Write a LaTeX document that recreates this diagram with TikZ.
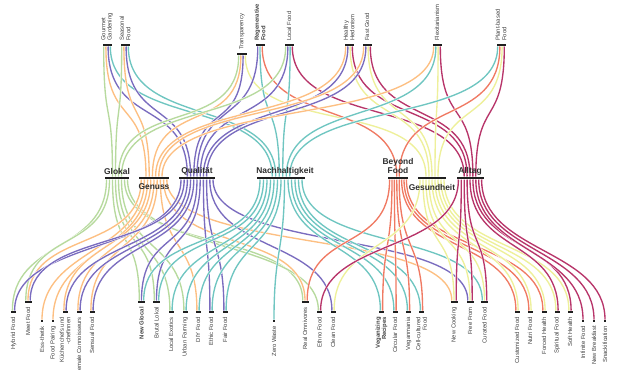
\documentclass[tikz,border=0pt]{standalone}
\usepackage{fontspec}
\setmainfont{Liberation Sans}
\usetikzlibrary{backgrounds}
\definecolor{cG}{HTML}{B7DA9E}
\definecolor{cO}{HTML}{FDBF82}
\definecolor{cP}{HTML}{7A6CBF}
\definecolor{cT}{HTML}{6FC6C1}
\definecolor{cC}{HTML}{F07A63}
\definecolor{cY}{HTML}{EEF09A}
\definecolor{cM}{HTML}{B8356A}
\def\spglokal{3}\def\spgenuss{3.2}\def\spqual{3.2}\def\spnach{3.5}
\def\spbeyond{2.4}\def\spgesund{3}\def\spalltag{2.9}
\newcommand\linkU[7]{\draw[lk=#1] ([xshift={((#3)-((#4)+1)/2)*2.2}]#2.south) .. controls +(0,-82) and +(0,80) .. ([xshift={((#6)-((#7)+1)/2)*\csname sp#5\endcsname}]#5.north);}
\newcommand\linkD[7]{\draw[lk=#1] ([xshift={((#3)-((#4)+1)/2)*\csname sp#2\endcsname}]#2.south) .. controls +(0,-74) and +(0,72) .. ([xshift={((#6)-((#7)+1)/2)*2.2}]#5.north);}
\begin{document}
\begin{tikzpicture}[x=1pt,y=1pt,
  lk/.style={line width=0.45pt, draw=white, double=#1, double distance=1.35pt},
  bar/.style={fill=black!88, draw=none, inner sep=0pt, minimum height=2.6pt},
  tlab/.style={rotate=90, anchor=west, font=\fontsize{5.9}{6.3}\selectfont, align=left, text=black!75, inner sep=0pt},
  blab/.style={rotate=90, anchor=east, font=\fontsize{5.9}{6.3}\selectfont, align=right, text=black!75, inner sep=0pt},
  clab/.style={font=\fontsize{8.4}{8.8}\selectfont\bfseries, align=center, text=black!82, inner sep=0pt}]
\useasboundingbox (0,0) rectangle (620,-369);
% top bars
\node[bar, minimum width=9pt] (gg) at (107,-45) {};
\node[bar, minimum width=9pt] (sf) at (125,-45) {};
\node[bar, minimum width=10pt] (tr) at (242,-54) {};
\node[bar, minimum width=9pt] (rg) at (260,-45) {};
\node[bar, minimum width=9pt] (lf) at (289,-45) {};
\node[bar, minimum width=9pt] (hh) at (349,-45) {};
\node[bar, minimum width=9pt] (fg) at (367,-45) {};
\node[bar, minimum width=9pt] (fx) at (437,-45) {};
\node[bar, minimum width=9pt] (pb) at (501,-45) {};
% category bars
\node[bar, minimum width=24pt] (glokal) at (117,-178) {};
\node[bar, minimum width=30pt] (genuss) at (154,-178) {};
\node[bar, minimum width=36pt] (qual) at (197,-178) {};
\node[bar, minimum width=48pt] (nach) at (281,-178) {};
\node[bar, minimum width=20pt] (beyond) at (398,-178) {};
\node[bar, minimum width=28pt] (gesund) at (432,-178) {};
\node[bar, minimum width=27pt] (alltag) at (470,-178) {};
% bottom bars
\node[bar, minimum width=5pt] (hyb) at (13.5,-312) {};
\node[bar, minimum width=7pt] (meet) at (28,-302) {};
\node[bar, minimum width=2.2pt, minimum height=2.2pt] (ess) at (42,-321) {};
\node[bar, minimum width=2.2pt, minimum height=2.2pt] (fp) at (53,-321) {};
\node[bar, minimum width=5pt] (kuch) at (65,-312) {};
\node[bar, minimum width=5pt] (conn) at (79,-312) {};
\node[bar, minimum width=5pt] (sens) at (92,-312) {};
\node[bar, minimum width=7pt] (ng) at (141.5,-302) {};
\node[bar, minimum width=7pt] (bl) at (156.5,-302) {};
\node[bar, minimum width=5pt] (le) at (171,-312) {};
\node[bar, minimum width=5pt] (uf) at (185,-312) {};
\node[bar, minimum width=5pt] (diy) at (198,-312) {};
\node[bar, minimum width=5pt] (eth) at (211,-312) {};
\node[bar, minimum width=5pt] (fair) at (225,-312) {};
\node[bar, minimum width=2.2pt, minimum height=2.2pt] (zw) at (274,-321) {};
\node[bar, minimum width=7pt] (ro) at (305,-302) {};
\node[bar, minimum width=5pt] (ethno) at (319.5,-312) {};
\node[bar, minimum width=5pt] (clean) at (333,-312) {};
\node[bar, minimum width=5pt] (veg) at (381.5,-312) {};
\node[bar, minimum width=5pt] (circ) at (395,-312) {};
\node[bar, minimum width=5pt] (vm) at (408.5,-312) {};
\node[bar, minimum width=5pt] (cell) at (421.5,-312) {};
\node[bar, minimum width=7pt] (nc) at (454,-302) {};
\node[bar, minimum width=7pt] (ff) at (470,-302) {};
\node[bar, minimum width=7pt] (cur) at (484.5,-302) {};
\node[bar, minimum width=5pt] (cust) at (517,-312) {};
\node[bar, minimum width=5pt] (nutri) at (530,-312) {};
\node[bar, minimum width=5pt] (forced) at (544,-312) {};
\node[bar, minimum width=5pt] (spir) at (557,-312) {};
\node[bar, minimum width=5pt] (soft) at (570,-312) {};
\node[bar, minimum width=2.2pt, minimum height=2.2pt] (inf) at (583,-321) {};
\node[bar, minimum width=2.2pt, minimum height=2.2pt] (nb) at (594,-321) {};
\node[bar, minimum width=2.2pt, minimum height=2.2pt] (snack) at (605,-321) {};
\begin{scope}[on background layer]
% top -> category
\linkU{cG}{gg}{1}{4}{glokal}{1}{4}\linkU{cO}{gg}{2}{4}{genuss}{1}{6}\linkU{cP}{gg}{3}{4}{qual}{1}{7}\linkU{cT}{gg}{4}{4}{nach}{1}{6}
\linkU{cG}{sf}{1}{4}{glokal}{2}{4}\linkU{cO}{sf}{2}{4}{genuss}{2}{6}\linkU{cP}{sf}{3}{4}{qual}{2}{7}\linkU{cT}{sf}{4}{4}{nach}{2}{6}
\linkU{cG}{tr}{1}{4}{glokal}{3}{4}\linkU{cO}{tr}{2}{4}{genuss}{3}{6}\linkU{cP}{tr}{3}{4}{qual}{3}{7}\linkU{cY}{tr}{4}{4}{gesund}{1}{5}
\linkU{cP}{rg}{1}{3}{qual}{4}{7}\linkU{cT}{rg}{2}{3}{nach}{3}{6}\linkU{cC}{rg}{3}{3}{beyond}{1}{2}
\linkU{cG}{lf}{1}{4}{glokal}{4}{4}\linkU{cP}{lf}{2}{4}{qual}{5}{7}\linkU{cT}{lf}{3}{4}{nach}{4}{6}\linkU{cM}{lf}{4}{4}{alltag}{1}{5}
\linkU{cO}{hh}{1}{4}{genuss}{4}{6}\linkU{cP}{hh}{2}{4}{qual}{6}{7}\linkU{cY}{hh}{3}{4}{gesund}{2}{5}\linkU{cM}{hh}{4}{4}{alltag}{2}{5}
\linkU{cO}{fg}{1}{4}{genuss}{5}{6}\linkU{cP}{fg}{2}{4}{qual}{7}{7}\linkU{cY}{fg}{3}{4}{gesund}{3}{5}\linkU{cM}{fg}{4}{4}{alltag}{3}{5}
\linkU{cO}{fx}{1}{4}{genuss}{6}{6}\linkU{cT}{fx}{2}{4}{nach}{5}{6}\linkU{cY}{fx}{3}{4}{gesund}{4}{5}\linkU{cM}{fx}{4}{4}{alltag}{4}{5}
\linkU{cT}{pb}{1}{4}{nach}{6}{6}\linkU{cC}{pb}{2}{4}{beyond}{2}{2}\linkU{cY}{pb}{3}{4}{gesund}{5}{5}\linkU{cM}{pb}{4}{4}{alltag}{5}{5}
% category -> bottom
\linkD{cG}{glokal}{1}{8}{hyb}{1}{2}\linkD{cG}{glokal}{2}{8}{meet}{1}{3}\linkD{cG}{glokal}{3}{8}{ng}{1}{3}\linkD{cG}{glokal}{4}{8}{bl}{1}{3}
\linkD{cG}{glokal}{5}{8}{le}{1}{2}\linkD{cG}{glokal}{6}{8}{uf}{1}{2}\linkD{cG}{glokal}{7}{8}{ro}{1}{3}\linkD{cG}{glokal}{8}{8}{ethno}{1}{2}
\linkD{cO}{genuss}{1}{9}{meet}{2}{3}\linkD{cO}{genuss}{2}{9}{ess}{1}{1}\linkD{cO}{genuss}{3}{9}{fp}{1}{1}\linkD{cO}{genuss}{4}{9}{kuch}{1}{2}
\linkD{cO}{genuss}{5}{9}{conn}{1}{2}\linkD{cO}{genuss}{6}{9}{sens}{1}{2}\linkD{cO}{genuss}{7}{9}{diy}{1}{2}\linkD{cO}{genuss}{8}{9}{ro}{2}{3}\linkD{cO}{genuss}{9}{9}{nc}{1}{3}
\linkD{cP}{qual}{1}{11}{hyb}{2}{2}\linkD{cP}{qual}{2}{11}{meet}{3}{3}\linkD{cP}{qual}{3}{11}{kuch}{2}{2}\linkD{cP}{qual}{4}{11}{conn}{2}{2}
\linkD{cP}{qual}{5}{11}{sens}{2}{2}\linkD{cP}{qual}{6}{11}{ng}{2}{3}\linkD{cP}{qual}{7}{11}{bl}{2}{3}\linkD{cP}{qual}{8}{11}{eth}{1}{2}
\linkD{cP}{qual}{9}{11}{fair}{1}{2}\linkD{cP}{qual}{10}{11}{clean}{1}{2}\linkD{cP}{qual}{11}{11}{ff}{1}{3}
\linkD{cT}{nach}{1}{13}{ng}{3}{3}\linkD{cT}{nach}{2}{13}{bl}{3}{3}\linkD{cT}{nach}{3}{13}{le}{2}{2}\linkD{cT}{nach}{4}{13}{uf}{2}{2}
\linkD{cT}{nach}{5}{13}{diy}{2}{2}\linkD{cT}{nach}{6}{13}{eth}{2}{2}\linkD{cT}{nach}{7}{13}{fair}{2}{2}\linkD{cT}{nach}{8}{13}{zw}{1}{1}
\linkD{cT}{nach}{9}{13}{veg}{1}{2}\linkD{cT}{nach}{10}{13}{circ}{1}{2}\linkD{cT}{nach}{11}{13}{vm}{1}{2}\linkD{cT}{nach}{12}{13}{cell}{1}{2}\linkD{cT}{nach}{13}{13}{cur}{1}{3}
\linkD{cC}{beyond}{1}{8}{ro}{3}{3}\linkD{cC}{beyond}{2}{8}{veg}{2}{2}\linkD{cC}{beyond}{3}{8}{circ}{2}{2}\linkD{cC}{beyond}{4}{8}{vm}{2}{2}
\linkD{cC}{beyond}{5}{8}{cell}{2}{2}\linkD{cC}{beyond}{6}{8}{cust}{1}{2}\linkD{cC}{beyond}{7}{8}{nutri}{1}{2}\linkD{cC}{beyond}{8}{8}{forced}{1}{2}
\linkD{cY}{gesund}{1}{9}{clean}{2}{2}\linkD{cY}{gesund}{2}{9}{nc}{2}{3}\linkD{cY}{gesund}{3}{9}{ff}{2}{3}\linkD{cY}{gesund}{4}{9}{cur}{2}{3}
\linkD{cY}{gesund}{5}{9}{cust}{2}{2}\linkD{cY}{gesund}{6}{9}{nutri}{2}{2}\linkD{cY}{gesund}{7}{9}{forced}{2}{2}\linkD{cY}{gesund}{8}{9}{spir}{1}{2}\linkD{cY}{gesund}{9}{9}{soft}{1}{2}
\linkD{cM}{alltag}{1}{9}{ethno}{2}{2}\linkD{cM}{alltag}{2}{9}{nc}{3}{3}\linkD{cM}{alltag}{3}{9}{ff}{3}{3}\linkD{cM}{alltag}{4}{9}{cur}{3}{3}
\linkD{cM}{alltag}{5}{9}{spir}{2}{2}\linkD{cM}{alltag}{6}{9}{soft}{2}{2}\linkD{cM}{alltag}{7}{9}{inf}{1}{1}\linkD{cM}{alltag}{8}{9}{nb}{1}{1}\linkD{cM}{alltag}{9}{9}{snack}{1}{1}
\end{scope}
% top labels
\node[tlab] (gg-l) at (107,-41) {Gourmet\\Gardening};
\node[tlab] (sf-l) at (125,-41) {Seasonal\\Food};
\node[tlab] (tr-l) at (242,-50) {Transparency};
\node[tlab] (rg-l) at (260,-41) {\bfseries Regenerative\\\bfseries Food};
\node[tlab] (lf-l) at (289,-41) {Local Food};
\node[tlab] (hh-l) at (349,-41) {Healthy\\Hedonism};
\node[tlab] (fg-l) at (367,-41) {Fast Good};
\node[tlab] (fx-l) at (437,-41) {Flexitarianism};
\node[tlab] (pb-l) at (501,-41) {Plant-based\\Food};
% category labels
\node[clab] (glokal-l) at (117,-171) {Glokal};
\node[clab] (genuss-l) at (154,-187) {Genuss};
\node[clab] (qual-l) at (197,-171) {Qualität};
\node[clab] (nach-l) at (285,-171) {Nachhaltigkeit};
\node[clab] (beyond-l) at (398,-166) {Beyond\\Food};
\node[clab] (gesund-l) at (432,-187) {Gesundheit};
\node[clab] (alltag-l) at (470,-171) {Alltag};
% bottom labels
\node[blab] (hyb-l) at (13.5,-317) {Hybrid Food};
\node[blab] (meet-l) at (28,-307) {Meet Food};
\node[blab] (ess-l) at (42,-326) {Ess-thetik};
\node[blab] (fp-l) at (53,-326) {Food Pairing};
\node[blab] (kuch-l) at (65,-317) {Küchenchefs und\\-chefinnen};
\node[blab] (conn-l) at (79,-317) {Female Connoisseurs};
\node[blab] (sens-l) at (92,-317) {Sensual Food};
\node[blab] (ng-l) at (141.5,-307) {\bfseries New Glocal};
\node[blab] (bl-l) at (156.5,-307) {Brutal Lokal};
\node[blab] (le-l) at (171,-317) {Local Exotics};
\node[blab] (uf-l) at (185,-317) {Urban Farming};
\node[blab] (diy-l) at (198,-317) {DIY Food};
\node[blab] (eth-l) at (211,-317) {Ethic Food};
\node[blab] (fair-l) at (225,-317) {Fair Food};
\node[blab] (zw-l) at (274,-326) {Zero Waste};
\node[blab] (ro-l) at (305,-307) {Real Omnivores};
\node[blab] (ethno-l) at (319.5,-317) {Ethno Food};
\node[blab] (clean-l) at (333,-317) {Clean Food};
\node[blab] (veg-l) at (381.5,-317) {\bfseries Veganizing\\\bfseries Recipes};
\node[blab] (circ-l) at (395,-317) {Circular Food};
\node[blab] (vm-l) at (408.5,-317) {Veganmania};
\node[blab] (cell-l) at (421.5,-317) {Cell-cultured\\Food};
\node[blab] (nc-l) at (454,-307) {New Cooking};
\node[blab] (ff-l) at (470,-307) {Free From};
\node[blab] (cur-l) at (484.5,-307) {Curated Food};
\node[blab] (cust-l) at (517,-317) {Customized Food};
\node[blab] (nutri-l) at (530,-317) {Nutri Food};
\node[blab] (forced-l) at (544,-317) {Forced Health};
\node[blab] (spir-l) at (557,-317) {Spiritual Food};
\node[blab] (soft-l) at (570,-317) {Soft Health};
\node[blab] (inf-l) at (583,-326) {Infinite Food};
\node[blab] (nb-l) at (594,-326) {New Breakfast};
\node[blab] (snack-l) at (605,-326) {Snackification};
\end{tikzpicture}
\end{document}
